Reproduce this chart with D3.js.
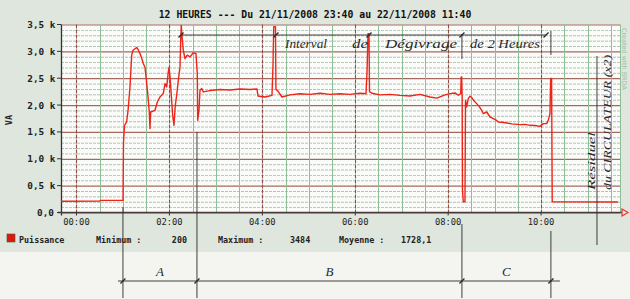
<!DOCTYPE html>
<html><head><meta charset="utf-8">
<script src="https://cdn.jsdelivr.net/npm/d3@7"></script>
<style>body{margin:0;background:#f4f5f1} svg{display:block}</style>
</head><body>
<svg id="c" width="630" height="299"></svg>
<script>
const title = "12 HEURES --- Du 21/11/2008 23:40 au 22/11/2008 11:40";
// minutes from 00:00 (negative = before midnight)
const timeMin = [-20,30,31.6,60.1,60.7,62,64.8,66.6,69.1,71.3,73,77.7,79.4,82,84,86.3,88.5,89.8,92,94,94.9,95.8,101.4,104.4,107.8,112.1,114.3,116.5,118.6,119.5,120.8,122,124.2,125.9,127.6,129.4,131.5,133.7,134.6,135.3,136.2,137.9,140.1,143.1,146.6,150.8,154.3,156,156.5,158.2,159.5,161.7,163.8,172.4,185.3,198.2,211.2,224.1,233.1,234.4,243.4,252.5,253.8,254.7,257,257.6,260.2,265.4,275.7,288.6,301.5,314.5,327.4,340.3,353.2,366.1,373.9,375.2,376.5,377.8,378.4,381.6,392,404.9,417.8,430.7,443.6,456.5,465.5,475.9,482.4,488.8,493.1,496.2,496.8,497.5,498.1,498.5,499.5,501.7,502.4,503.9,506,508.2,510.4,513.3,516.8,519.8,523.3,525.4,529.8,534.1,538.4,541.9,544.8,549.6,555.6,562.5,572.8,579.3,585.8,592.2,598.6,602.9,607.3,609.3,611.5,612.4,613.6,614.4,699.3];
const powerVA = [210,215,225,225,1300,1620,1690,1900,2340,2930,3020,3073,3040,2960,2880,2774,2700,2524,2214,1871,1561,1871,1903,2058,2151,2214,2400,2338,2617,2700,2524,2276,1810,1623,1996,2183,2463,2711,3209,3484,3300,3022,2867,2929,2898,2973,2960,2587,1716,1900,2276,2307,2245,2270,2290,2280,2300,2290,2300,2170,2150,2180,2750,3460,3460,2290,2260,2150,2190,2210,2200,2220,2200,2210,2200,2220,2210,2600,3330,3330,2250,2220,2190,2200,2180,2170,2200,2150,2130,2190,2214,2226,2183,2214,2524,2524,2121,420,200,200,2090,1965,2121,2164,2140,2080,2027,1980,1903,1841,1871,1778,1748,1720,1685,1680,1666,1650,1636,1640,1623,1620,1604,1655,1655,1716,1841,2494,2494,200,195];
const yTicks = [0,500,1000,1500,2000,2500,3000,3500];
const yTickLabels = ["0,0","0,5 k","1,0 k","1,5 k","2,0 k","2,5 k","3,0 k","3,5 k"];
const xTicks = [0,120,240,360,480,600];
const xTickLabels = ["00:00","02:00","04:00","06:00","08:00","10:00"];
const yAxisTitle = "VA";
const seriesName = "Puissance";
const statLabels = ["Minimum :","Maximum :","Moyenne :"];
const statValues = ["200","3484","1728,1"];
const phaseLabels = ["A","B","C"];
const phaseBounds = [60,155.6,497.8,612.7];
const defrostMarks = [135,257.6,377.8,497.8,606.4];

const svg = d3.select("#c");
const mono = "'DejaVu Sans Mono', monospace";
const hand = "'Liberation Serif', serif";
const x = d3.scaleLinear().domain([-20,700]).range([61,618.5]);
const y = d3.scaleLinear().domain([0,3500]).range([212.5,24.5]);

// backgrounds
svg.append("rect").attr("width",630).attr("height",299).attr("fill","#f4f5f1");
svg.append("rect").attr("width",630).attr("height",252).attr("fill","#dfe6dd");
svg.append("rect").attr("x",61).attr("y",y(3500)).attr("width",559).attr("height",y(0)-y(3500)).attr("fill","#fbfcfa");

// horizontal grid
const hgrid = d3.range(0,3501,100);
svg.append("g").selectAll("line").data(hgrid).join("line")
  .attr("x1",61).attr("x2",620).attr("y1",d=>y(d)+0.5).attr("y2",d=>y(d)+0.5)
  .attr("stroke",d=>d%500===0?"#9b5a4e":"#6f8f74")
  .attr("stroke-width",d=>d%500===0?1.2:0.7)
  .attr("stroke-dasharray",d=>d%500===0?null:"3,1")
  .attr("opacity",d=>d%500===0?0.9:0.75);
// vertical grid
const vgrid = d3.range(0,691,30);
svg.append("g").selectAll("line").data(vgrid).join("line")
  .attr("x1",d=>Math.round(x(d))+0.5).attr("x2",d=>Math.round(x(d))+0.5)
  .attr("y1",y(3500)).attr("y2",y(0))
  .attr("stroke",d=>d%120===0?"#8c5047":"#8fbf96")
  .attr("stroke-width",d=>d%120===0?1.1:1)
  .attr("stroke-dasharray",d=>d%120===0?"4,1":null);
svg.append("line").attr("x1",620.5).attr("x2",620.5).attr("y1",y(3500)).attr("y2",y(0)).attr("stroke","#8fbf96");

// axes
svg.append("line").attr("x1",61.5).attr("x2",61.5).attr("y1",y(3500)).attr("y2",y(0)+3).attr("stroke","#333").attr("stroke-width",1.3);
svg.append("line").attr("x1",58).attr("x2",622).attr("y1",y(0)).attr("y2",y(0)).attr("stroke","#4a3a3a").attr("stroke-width",1.5);
svg.append("path").attr("d",`M622,${y(0)-3.5}L628,${y(0)}L622,${y(0)+3.5}Z`).attr("fill","none").attr("stroke","#e33").attr("stroke-width",1.2);
svg.append("g").selectAll("line").data(yTicks).join("line")
  .attr("x1",57).attr("x2",61).attr("y1",d=>y(d)).attr("y2",d=>y(d)).attr("stroke","#333");
svg.append("g").selectAll("line").data(xTicks).join("line")
  .attr("x1",d=>x(d)).attr("x2",d=>x(d)).attr("y1",y(0)).attr("y2",y(0)+3).attr("stroke","#333");

// tick labels
svg.append("g").selectAll("text").data(yTicks).join("text")
  .attr("x",(d,i)=>i===0?54:55.5).attr("y",d=>y(d)+3.5).attr("text-anchor","end")
  .attr("font-family",mono).attr("font-weight","bold").attr("font-size",9.4).attr("fill","#222")
  .text((d,i)=>yTickLabels[i]);
svg.append("g").selectAll("text").data(xTicks).join("text")
  .attr("x",d=>x(d)).attr("y",224.5).attr("text-anchor","middle")
  .attr("font-family",mono).attr("font-size",8.8).attr("fill","#222")
  .text((d,i)=>xTickLabels[i]);
svg.append("text").attr("transform","translate(12,120) rotate(-90)").attr("text-anchor","middle")
  .attr("font-family",mono).attr("font-weight","bold").attr("font-size",8.5).attr("fill","#222").text(yAxisTitle);

// title
svg.append("text").attr("x",315).attr("y",18).attr("text-anchor","middle")
  .attr("font-family",mono).attr("font-weight","bold").attr("font-size",9.8).attr("fill","#111").text(title);

// side credit
svg.append("text").attr("transform","translate(622,28) rotate(90)")
  .attr("font-family","'DejaVu Sans', sans-serif").attr("font-size",6.5).attr("fill","#9cc3a0").text("Created with BRDA");

// series line
const line = d3.line().x((d,i)=>x(timeMin[i])).y(d=>y(d));
svg.append("path").datum(powerVA).attr("d",line).attr("fill","none")
  .attr("stroke","#ee2418").attr("stroke-width",1.4).attr("stroke-linejoin","round");

// legend
svg.append("rect").attr("x",7).attr("y",234).attr("width",8).attr("height",8).attr("fill","#dd1a10").attr("stroke","#552").attr("stroke-width",0.6);
svg.append("text").attr("x",19).attr("y",243).attr("font-family",mono).attr("font-weight","bold").attr("font-size",8.4).attr("fill","#222").text(seriesName);
const statLabelX = [96,218,339];
const statValX = [187,290,401];
const statAnchor = ["end","start","start"];
statLabels.forEach((s,i)=>{
  svg.append("text").attr("x",statLabelX[i]).attr("y",243).attr("font-family",mono).attr("font-weight","bold").attr("font-size",8.4).attr("fill","#222").text(s);
  svg.append("text").attr("x",statValX[i]).attr("y",243).attr("text-anchor",statAnchor[i]).attr("font-family",mono).attr("font-weight","bold").attr("font-size",8.4).attr("fill","#222").text(statValues[i]);
});

// handwritten annotations
const ink = "#2a2a2a";
const ann = svg.append("g").attr("stroke",ink).attr("stroke-width",0.9).attr("fill","none");
ann.append("line").attr("x1",x(defrostMarks[0])).attr("x2",x(defrostMarks[4])).attr("y1",35).attr("y2",35);
defrostMarks.forEach(m=>{
  ann.append("line").attr("x1",x(m)-2.5).attr("x2",x(m)+2.5).attr("y1",37.5).attr("y2",32.5).attr("stroke-width",1.3);
});
ann.append("line").attr("x1",x(497.8)).attr("x2",x(497.8)).attr("y1",34).attr("y2",59);
ann.append("line").attr("x1",x(612.7)).attr("x2",x(612.7)).attr("y1",31).attr("y2",55);
const htext = [["Interval",285,42],["de",352,16],["Dégivrage",385,72],["de 2 Heures",470,70]];
htext.forEach(t=>{
  svg.append("text").attr("x",t[1]).attr("y",48).attr("font-family",hand).attr("font-style","italic")
    .attr("font-size",12).attr("fill",ink).attr("textLength",t[2]).attr("lengthAdjust","spacingAndGlyphs").text(t[0]);
});
ann.append("line").attr("x1",x(672.2)).attr("x2",x(672.2)).attr("y1",56).attr("y2",245);
svg.append("text").attr("transform","translate(595,190) rotate(-90)").attr("font-family",hand).attr("font-style","italic")
  .attr("font-size",11).attr("fill",ink).attr("textLength",58).attr("lengthAdjust","spacingAndGlyphs").text("Résiduel");
svg.append("text").attr("transform","translate(611,190) rotate(-90)").attr("font-family",hand).attr("font-style","italic")
  .attr("font-size",11).attr("fill",ink).attr("textLength",135).attr("lengthAdjust","spacingAndGlyphs").text("du CIRCULATEUR (x2)");

// phase dimension lines
const dimY = 281;
const vStart = [207,132,224,231];
phaseBounds.forEach((m,i)=>{
  ann.append("line").attr("x1",x(m)).attr("x2",x(m)).attr("y1",vStart[i]).attr("y2",298);
  ann.append("line").attr("x1",x(m)-2.5).attr("x2",x(m)+2.5).attr("y1",dimY+2.5).attr("y2",dimY-2.5).attr("stroke-width",1.3);
});
ann.append("line").attr("x1",x(phaseBounds[0])-5).attr("x2",x(phaseBounds[3])+9).attr("y1",dimY).attr("y2",dimY);
phaseLabels.forEach((l,i)=>{
  const cx = (x(phaseBounds[i])+x(phaseBounds[i+1]))/2;
  svg.append("text").attr("x",cx).attr("y",dimY-5).attr("text-anchor","middle").attr("font-family",hand).attr("font-style","italic")
    .attr("font-size",13).attr("fill",ink).text(l);
});
</script>
</body></html>
